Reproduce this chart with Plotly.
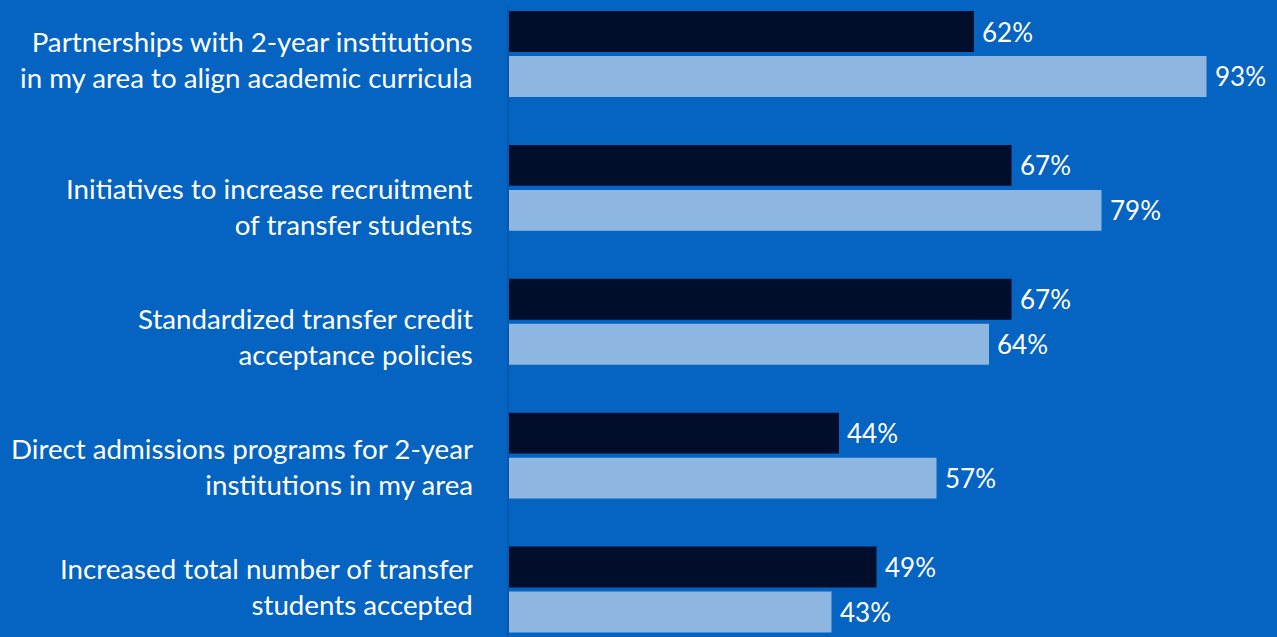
import plotly.graph_objects as go

# Survey items (one per row, top to bottom)
categories = [
    "Partnerships with 2-year institutions<br>in my area to align academic curricula",
    "Initiatives to increase recruitment<br>of transfer students",
    "Standardized transfer credit<br>acceptance policies",
    "Direct admissions programs for 2-year<br>institutions in my area",
    "Increased total number of transfer<br>students accepted",
]
series_dark = [62, 67, 67, 44, 49]
series_light = [93, 79, 64, 57, 43]

# Styling
BG = "#0563C1"
DARK = "#000D2B"
LIGHT = "#8DB6E1"
AXIS_LINE = "#0A58AB"
TEXT = "#FFFFFF"
FONT = "Lato"
LABEL_SIZE = 27.7
VALUE_SIZE = 26
BARGAP = 0.328
BARGROUPGAP = 0.089
# small hand nudges (px) for the wrapped row labels
label_nudge = [-5, -19, -15, -11, 3]

W, H = 1277, 637
L, R = 509, 18

rows = list(range(len(categories)))
fig = go.Figure()
fig.add_trace(go.Bar(y=rows, x=series_dark, orientation="h",
                     marker=dict(color=DARK, line=dict(width=0)), showlegend=False))
fig.add_trace(go.Bar(y=rows, x=series_light, orientation="h",
                     marker=dict(color=LIGHT, line=dict(width=0)), showlegend=False))

annotations = []
half = (1 - BARGAP) / 4  # centre offset of each bar within its group
for i, cat in enumerate(categories):
    annotations.append(dict(
        x=0, xref="paper", y=i, yref="y", text=cat, showarrow=False,
        xanchor="right", yanchor="middle", align="right", xshift=-34,
        yshift=label_nudge[i],
        font=dict(family=FONT, size=LABEL_SIZE, color=TEXT),
    ))
    for val, off in ((series_dark[i], -half), (series_light[i], half)):
        annotations.append(dict(
            x=val, xref="x", y=i + off, yref="y", text=f"{val}%", showarrow=False,
            xanchor="left", yanchor="middle", xshift=6,
            font=dict(family=FONT, size=VALUE_SIZE, color=TEXT),
        ))

px_per_row = 133.875
top = -54 / px_per_row
bottom = top + H / px_per_row

fig.update_layout(
    width=W, height=H,
    margin=dict(l=L, r=R, t=0, b=0, pad=0),
    paper_bgcolor=BG, plot_bgcolor=BG,
    barmode="group", bargap=BARGAP, bargroupgap=BARGROUPGAP,
    xaxis=dict(range=[0, 100], visible=False, fixedrange=True),
    yaxis=dict(range=[bottom, top], visible=False, fixedrange=True),
    annotations=annotations,
    shapes=[dict(type="line", xref="paper", yref="paper", x0=-0.0013, x1=-0.0013,
                 y0=0, y1=1 - 7 / H, line=dict(color=AXIS_LINE, width=2), layer="below")],
)

fig.write_html("out.html", config={"displayModeBar": False})
